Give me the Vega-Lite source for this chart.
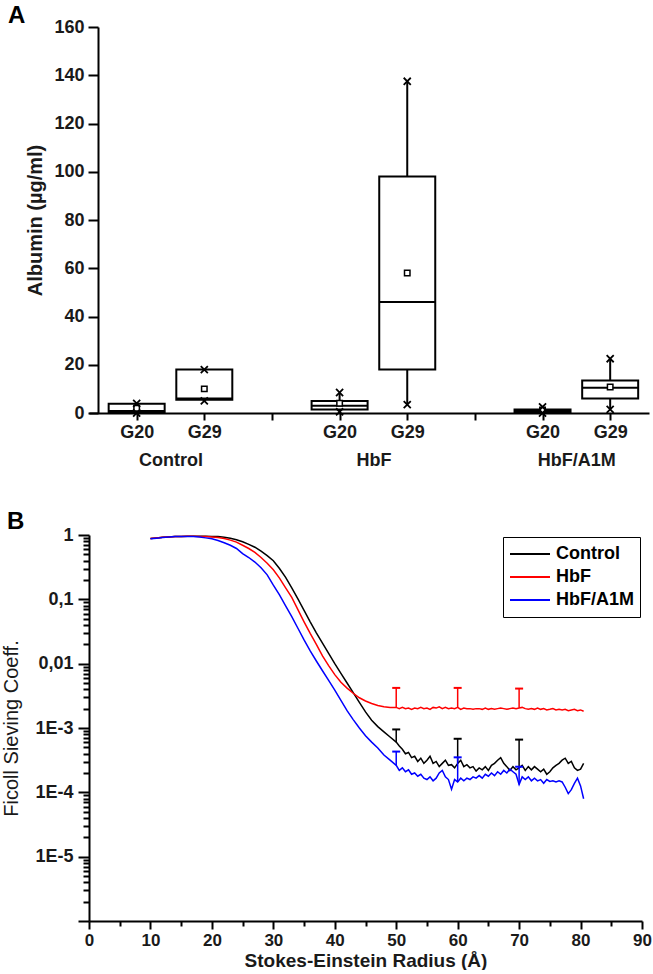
{
"$schema": "https://vega.github.io/schema/vega-lite/v6.json",
"padding": {"left": 1, "top": 4, "right": 0, "bottom": 0},
"align": "none",
"spacing": 41,
"resolve": {"scale": {"color": "independent"}, "legend": {"color": "independent"}},
"config": {
  "font": "Liberation Sans",
  "view": {"stroke": null},
  "axis": {"domainColor": "black", "domainWidth": 2, "tickColor": "black", "tickWidth": 2, "labelColor": "#1a1a1a", "labelFontWeight": "bold", "labelFontSize": 17, "titleColor": "#1a1a1a", "titleFontWeight": "bold", "titleFontSize": 19, "grid": false},
  "title": {"fontSize": 24, "fontWeight": "bold", "color": "black", "anchor": "start", "frame": "bounds"}
},
"datasets": {
  "boxes": [
    {"group": "Control", "label": "G20", "pos": 1, "min": 0, "q1": 0.3, "median": 0.8, "q3": 3.8, "max": 4, "mean": 2},
    {"group": "Control", "label": "G29", "pos": 2, "min": 5, "q1": 5.5, "median": 6, "q3": 18, "max": 18, "mean": 10},
    {"group": "HbF", "label": "G20", "pos": 4, "min": 0.5, "q1": 1.5, "median": 3, "q3": 5, "max": 8.5, "mean": 4},
    {"group": "HbF", "label": "G29", "pos": 5, "min": 3.5, "q1": 18, "median": 46, "q3": 98, "max": 137.5, "mean": 58},
    {"group": "HbF/A1M", "label": "G20", "pos": 7, "min": 0, "q1": 0.3, "median": 0.8, "q3": 1.5, "max": 2.5, "mean": 1.2},
    {"group": "HbF/A1M", "label": "G29", "pos": 8, "min": 1.5, "q1": 6, "median": 10.5, "q3": 13.5, "max": 22.5, "mean": 10.8}
  ],
  "errs": [
    {"s": "Control", "r": 50, "lo": 0.000603, "hi": 0.00095},
    {"s": "Control", "r": 60, "lo": 0.000282, "hi": 0.00068},
    {"s": "Control", "r": 70, "lo": 0.00024, "hi": 0.00066},
    {"s": "HbF", "r": 50, "lo": 0.00209, "hi": 0.0042},
    {"s": "HbF", "r": 60, "lo": 0.00209, "hi": 0.0042},
    {"s": "HbF", "r": 70, "lo": 0.00204, "hi": 0.0041},
    {"s": "HbF/A1M", "r": 50, "lo": 0.000263, "hi": 0.00043},
    {"s": "HbF/A1M", "r": 60, "lo": 0.000145, "hi": 0.00035},
    {"s": "HbF/A1M", "r": 70, "lo": 0.000132, "hi": 0.00025}
  ],
  "curves": [
    {"s":"Control","r":10,"v":0.881},{"s":"Control","r":11,"v":0.902},{"s":"Control","r":12,"v":0.923},{"s":"Control","r":13,"v":0.933},{"s":"Control","r":14,"v":0.944},{"s":"Control","r":15,"v":0.951},{"s":"Control","r":16,"v":0.955},{"s":"Control","r":17,"v":0.955},{"s":"Control","r":18,"v":0.955},{"s":"Control","r":19,"v":0.955},{"s":"Control","r":20,"v":0.951},{"s":"Control","r":21,"v":0.944},{"s":"Control","r":22,"v":0.923},{"s":"Control","r":23,"v":0.891},{"s":"Control","r":24,"v":0.841},{"s":"Control","r":25,"v":0.785},{"s":"Control","r":26,"v":0.716},{"s":"Control","r":27,"v":0.646},{"s":"Control","r":28,"v":0.562},{"s":"Control","r":29,"v":0.479},{"s":"Control","r":30,"v":0.398},{"s":"Control","r":31,"v":0.302},{"s":"Control","r":32,"v":0.219},{"s":"Control","r":33,"v":0.151},{"s":"Control","r":34,"v":0.102},{"s":"Control","r":35,"v":0.0676},{"s":"Control","r":36,"v":0.0447},{"s":"Control","r":37,"v":0.0302},{"s":"Control","r":38,"v":0.0209},{"s":"Control","r":39,"v":0.0145},{"s":"Control","r":40,"v":0.0100},{"s":"Control","r":41,"v":0.00708},{"s":"Control","r":42,"v":0.00501},{"s":"Control","r":43,"v":0.00355},{"s":"Control","r":44,"v":0.00251},{"s":"Control","r":45,"v":0.00178},{"s":"Control","r":46,"v":0.00132},{"s":"Control","r":47,"v":0.00105},{"s":"Control","r":48,"v":0.000871},{"s":"Control","r":49,"v":0.000724},{"s":"Control","r":50,"v":0.000603},
    {"s":"Control","r":50.5,"v":0.000525},{"s":"Control","r":51,"v":0.000468},{"s":"Control","r":51.5,"v":0.000398},{"s":"Control","r":52,"v":0.000417},{"s":"Control","r":52.5,"v":0.000347},{"s":"Control","r":53,"v":0.000363},{"s":"Control","r":53.5,"v":0.000302},{"s":"Control","r":54,"v":0.000339},{"s":"Control","r":54.5,"v":0.000282},{"s":"Control","r":55,"v":0.000316},{"s":"Control","r":55.5,"v":0.000363},{"s":"Control","r":56,"v":0.000282},{"s":"Control","r":56.5,"v":0.000302},{"s":"Control","r":57,"v":0.000251},{"s":"Control","r":57.5,"v":0.000282},{"s":"Control","r":58,"v":0.000316},{"s":"Control","r":58.5,"v":0.000263},{"s":"Control","r":59,"v":0.000269},{"s":"Control","r":59.5,"v":0.000240},{"s":"Control","r":60,"v":0.000282},{"s":"Control","r":60.5,"v":0.000316},{"s":"Control","r":61,"v":0.000251},{"s":"Control","r":61.5,"v":0.000269},{"s":"Control","r":62,"v":0.000240},{"s":"Control","r":62.5,"v":0.000251},{"s":"Control","r":63,"v":0.000214},{"s":"Control","r":63.5,"v":0.000240},{"s":"Control","r":64,"v":0.000224},{"s":"Control","r":64.5,"v":0.000251},{"s":"Control","r":65,"v":0.000219},{"s":"Control","r":65.5,"v":0.000263},{"s":"Control","r":66,"v":0.000282},{"s":"Control","r":66.5,"v":0.000316},{"s":"Control","r":67,"v":0.000347},{"s":"Control","r":67.5,"v":0.000282},{"s":"Control","r":68,"v":0.000251},{"s":"Control","r":68.5,"v":0.000219},{"s":"Control","r":69,"v":0.000251},{"s":"Control","r":69.5,"v":0.000224},{"s":"Control","r":70,"v":0.000240},{"s":"Control","r":70.5,"v":0.000263},{"s":"Control","r":71,"v":0.000219},{"s":"Control","r":71.5,"v":0.000251},{"s":"Control","r":72,"v":0.000224},{"s":"Control","r":72.5,"v":0.000251},{"s":"Control","r":73,"v":0.000229},{"s":"Control","r":73.5,"v":0.000209},{"s":"Control","r":74,"v":0.000229},{"s":"Control","r":74.5,"v":0.000191},{"s":"Control","r":75,"v":0.000209},{"s":"Control","r":75.5,"v":0.000240},{"s":"Control","r":76,"v":0.000263},{"s":"Control","r":76.5,"v":0.000282},{"s":"Control","r":77,"v":0.000316},{"s":"Control","r":77.5,"v":0.000339},{"s":"Control","r":78,"v":0.000282},{"s":"Control","r":78.5,"v":0.000302},{"s":"Control","r":79,"v":0.000240},{"s":"Control","r":79.5,"v":0.000219},{"s":"Control","r":80,"v":0.000229},{"s":"Control","r":80.5,"v":0.000282},
    {"s":"HbF","r":10,"v":0.881},{"s":"HbF","r":11,"v":0.902},{"s":"HbF","r":12,"v":0.923},{"s":"HbF","r":13,"v":0.933},{"s":"HbF","r":14,"v":0.944},{"s":"HbF","r":15,"v":0.951},{"s":"HbF","r":16,"v":0.955},{"s":"HbF","r":17,"v":0.955},{"s":"HbF","r":18,"v":0.951},{"s":"HbF","r":19,"v":0.944},{"s":"HbF","r":20,"v":0.933},{"s":"HbF","r":21,"v":0.912},{"s":"HbF","r":22,"v":0.881},{"s":"HbF","r":23,"v":0.832},{"s":"HbF","r":24,"v":0.776},{"s":"HbF","r":25,"v":0.692},{"s":"HbF","r":26,"v":0.617},{"s":"HbF","r":27,"v":0.537},{"s":"HbF","r":28,"v":0.447},{"s":"HbF","r":29,"v":0.363},{"s":"HbF","r":30,"v":0.288},{"s":"HbF","r":31,"v":0.214},{"s":"HbF","r":32,"v":0.151},{"s":"HbF","r":33,"v":0.107},{"s":"HbF","r":34,"v":0.0692},{"s":"HbF","r":35,"v":0.0447},{"s":"HbF","r":36,"v":0.0295},{"s":"HbF","r":37,"v":0.0200},{"s":"HbF","r":38,"v":0.0132},{"s":"HbF","r":39,"v":0.00933},{"s":"HbF","r":40,"v":0.00676},{"s":"HbF","r":41,"v":0.00513},{"s":"HbF","r":42,"v":0.00417},{"s":"HbF","r":43,"v":0.00347},{"s":"HbF","r":44,"v":0.00295},{"s":"HbF","r":45,"v":0.00263},{"s":"HbF","r":46,"v":0.00240},{"s":"HbF","r":47,"v":0.00224},{"s":"HbF","r":48,"v":0.00214},{"s":"HbF","r":49,"v":0.00209},{"s":"HbF","r":50,"v":0.00209},
    {"s":"HbF","r":50.5,"v":0.00200},{"s":"HbF","r":51,"v":0.00209},{"s":"HbF","r":51.5,"v":0.00200},{"s":"HbF","r":52,"v":0.00204},{"s":"HbF","r":52.5,"v":0.00195},{"s":"HbF","r":53,"v":0.00204},{"s":"HbF","r":53.5,"v":0.00200},{"s":"HbF","r":54,"v":0.00209},{"s":"HbF","r":54.5,"v":0.00200},{"s":"HbF","r":55,"v":0.00204},{"s":"HbF","r":55.5,"v":0.00195},{"s":"HbF","r":56,"v":0.00209},{"s":"HbF","r":56.5,"v":0.00204},{"s":"HbF","r":57,"v":0.00214},{"s":"HbF","r":57.5,"v":0.00200},{"s":"HbF","r":58,"v":0.00209},{"s":"HbF","r":58.5,"v":0.00200},{"s":"HbF","r":59,"v":0.00204},{"s":"HbF","r":59.5,"v":0.00200},{"s":"HbF","r":60,"v":0.00209},{"s":"HbF","r":60.5,"v":0.00195},{"s":"HbF","r":61,"v":0.00204},{"s":"HbF","r":61.5,"v":0.00200},{"s":"HbF","r":62,"v":0.00200},{"s":"HbF","r":62.5,"v":0.00195},{"s":"HbF","r":63,"v":0.00200},{"s":"HbF","r":63.5,"v":0.00200},{"s":"HbF","r":64,"v":0.00195},{"s":"HbF","r":64.5,"v":0.00204},{"s":"HbF","r":65,"v":0.00195},{"s":"HbF","r":65.5,"v":0.00200},{"s":"HbF","r":66,"v":0.00195},{"s":"HbF","r":66.5,"v":0.00200},{"s":"HbF","r":67,"v":0.00204},{"s":"HbF","r":67.5,"v":0.00200},{"s":"HbF","r":68,"v":0.00195},{"s":"HbF","r":68.5,"v":0.00200},{"s":"HbF","r":69,"v":0.00204},{"s":"HbF","r":69.5,"v":0.00200},{"s":"HbF","r":70,"v":0.00204},{"s":"HbF","r":70.5,"v":0.00209},{"s":"HbF","r":71,"v":0.00200},{"s":"HbF","r":71.5,"v":0.00195},{"s":"HbF","r":72,"v":0.00200},{"s":"HbF","r":72.5,"v":0.00195},{"s":"HbF","r":73,"v":0.00204},{"s":"HbF","r":73.5,"v":0.00195},{"s":"HbF","r":74,"v":0.00200},{"s":"HbF","r":74.5,"v":0.00191},{"s":"HbF","r":75,"v":0.00195},{"s":"HbF","r":75.5,"v":0.00200},{"s":"HbF","r":76,"v":0.00191},{"s":"HbF","r":76.5,"v":0.00195},{"s":"HbF","r":77,"v":0.00191},{"s":"HbF","r":77.5,"v":0.00195},{"s":"HbF","r":78,"v":0.00186},{"s":"HbF","r":78.5,"v":0.00191},{"s":"HbF","r":79,"v":0.00195},{"s":"HbF","r":79.5,"v":0.00186},{"s":"HbF","r":80,"v":0.00191},{"s":"HbF","r":80.5,"v":0.00182},
    {"s":"HbF/A1M","r":10,"v":0.871},{"s":"HbF/A1M","r":11,"v":0.891},{"s":"HbF/A1M","r":12,"v":0.912},{"s":"HbF/A1M","r":13,"v":0.933},{"s":"HbF/A1M","r":14,"v":0.944},{"s":"HbF/A1M","r":15,"v":0.951},{"s":"HbF/A1M","r":16,"v":0.951},{"s":"HbF/A1M","r":17,"v":0.944},{"s":"HbF/A1M","r":18,"v":0.933},{"s":"HbF/A1M","r":19,"v":0.902},{"s":"HbF/A1M","r":20,"v":0.871},{"s":"HbF/A1M","r":21,"v":0.822},{"s":"HbF/A1M","r":22,"v":0.759},{"s":"HbF/A1M","r":23,"v":0.692},{"s":"HbF/A1M","r":24,"v":0.617},{"s":"HbF/A1M","r":25,"v":0.513},{"s":"HbF/A1M","r":26,"v":0.447},{"s":"HbF/A1M","r":27,"v":0.380},{"s":"HbF/A1M","r":28,"v":0.309},{"s":"HbF/A1M","r":29,"v":0.240},{"s":"HbF/A1M","r":30,"v":0.166},{"s":"HbF/A1M","r":31,"v":0.117},{"s":"HbF/A1M","r":32,"v":0.0794},{"s":"HbF/A1M","r":33,"v":0.0537},{"s":"HbF/A1M","r":34,"v":0.0355},{"s":"HbF/A1M","r":35,"v":0.0234},{"s":"HbF/A1M","r":36,"v":0.0158},{"s":"HbF/A1M","r":37,"v":0.0110},{"s":"HbF/A1M","r":38,"v":0.00776},{"s":"HbF/A1M","r":39,"v":0.00550},{"s":"HbF/A1M","r":40,"v":0.00389},{"s":"HbF/A1M","r":41,"v":0.00269},{"s":"HbF/A1M","r":42,"v":0.00186},{"s":"HbF/A1M","r":43,"v":0.00135},{"s":"HbF/A1M","r":44,"v":0.00100},{"s":"HbF/A1M","r":45,"v":0.000759},{"s":"HbF/A1M","r":46,"v":0.000603},{"s":"HbF/A1M","r":47,"v":0.000490},{"s":"HbF/A1M","r":48,"v":0.000380},{"s":"HbF/A1M","r":49,"v":0.000316},{"s":"HbF/A1M","r":50,"v":0.000263},
    {"s":"HbF/A1M","r":50.5,"v":0.000219},{"s":"HbF/A1M","r":51,"v":0.000240},{"s":"HbF/A1M","r":51.5,"v":0.000209},{"s":"HbF/A1M","r":52,"v":0.000224},{"s":"HbF/A1M","r":52.5,"v":0.000191},{"s":"HbF/A1M","r":53,"v":0.000200},{"s":"HbF/A1M","r":53.5,"v":0.000178},{"s":"HbF/A1M","r":54,"v":0.000191},{"s":"HbF/A1M","r":54.5,"v":0.000166},{"s":"HbF/A1M","r":55,"v":0.000158},{"s":"HbF/A1M","r":55.5,"v":0.000174},{"s":"HbF/A1M","r":56,"v":0.000151},{"s":"HbF/A1M","r":56.5,"v":0.000166},{"s":"HbF/A1M","r":57,"v":0.000200},{"s":"HbF/A1M","r":57.5,"v":0.000219},{"s":"HbF/A1M","r":58,"v":0.000174},{"s":"HbF/A1M","r":58.5,"v":0.000158},{"s":"HbF/A1M","r":59,"v":0.000112},{"s":"HbF/A1M","r":59.5,"v":0.000158},{"s":"HbF/A1M","r":60,"v":0.000145},{"s":"HbF/A1M","r":60.5,"v":0.000166},{"s":"HbF/A1M","r":61,"v":0.000151},{"s":"HbF/A1M","r":61.5,"v":0.000166},{"s":"HbF/A1M","r":62,"v":0.000158},{"s":"HbF/A1M","r":62.5,"v":0.000174},{"s":"HbF/A1M","r":63,"v":0.000166},{"s":"HbF/A1M","r":63.5,"v":0.000182},{"s":"HbF/A1M","r":64,"v":0.000166},{"s":"HbF/A1M","r":64.5,"v":0.000191},{"s":"HbF/A1M","r":65,"v":0.000178},{"s":"HbF/A1M","r":65.5,"v":0.000200},{"s":"HbF/A1M","r":66,"v":0.000182},{"s":"HbF/A1M","r":66.5,"v":0.000209},{"s":"HbF/A1M","r":67,"v":0.000191},{"s":"HbF/A1M","r":67.5,"v":0.000219},{"s":"HbF/A1M","r":68,"v":0.000200},{"s":"HbF/A1M","r":68.5,"v":0.000229},{"s":"HbF/A1M","r":69,"v":0.000209},{"s":"HbF/A1M","r":69.5,"v":0.000191},{"s":"HbF/A1M","r":70,"v":0.000132},{"s":"HbF/A1M","r":70.5,"v":0.000174},{"s":"HbF/A1M","r":71,"v":0.000158},{"s":"HbF/A1M","r":71.5,"v":0.000174},{"s":"HbF/A1M","r":72,"v":0.000151},{"s":"HbF/A1M","r":72.5,"v":0.000166},{"s":"HbF/A1M","r":73,"v":0.000151},{"s":"HbF/A1M","r":73.5,"v":0.000158},{"s":"HbF/A1M","r":74,"v":0.000138},{"s":"HbF/A1M","r":74.5,"v":0.000158},{"s":"HbF/A1M","r":75,"v":0.000148},{"s":"HbF/A1M","r":75.5,"v":0.000151},{"s":"HbF/A1M","r":76,"v":0.000145},{"s":"HbF/A1M","r":76.5,"v":0.000151},{"s":"HbF/A1M","r":77,"v":0.000145},{"s":"HbF/A1M","r":77.5,"v":0.000120},{"s":"HbF/A1M","r":78,"v":0.0000955},{"s":"HbF/A1M","r":78.5,"v":0.000110},{"s":"HbF/A1M","r":79,"v":0.000138},{"s":"HbF/A1M","r":79.5,"v":0.000166},{"s":"HbF/A1M","r":80,"v":0.000126},{"s":"HbF/A1M","r":80.5,"v":0.0000794}
  ]
},
"vconcat": [
  {
    "title": {"text": "A", "dx": -18, "offset": -10},
    "width": 560,
    "height": 386,
    "data": {"name": "boxes"},
    "encoding": {
      "x": {"field": "pos", "type": "quantitative", "scale": {"domain": [0.3693, 8.5], "nice": false, "zero": false},
        "axis": {"title": null, "values": [1, 1.5, 2, 3, 4, 4.5, 5, 6, 7, 7.5, 8],
          "labelExpr": "datum.value == 1.5 ? ['', 'Control'] : datum.value == 4.5 ? ['', 'HbF'] : datum.value == 7.5 ? ['', 'HbF/A1M'] : (datum.value == 1 || datum.value == 4 || datum.value == 7) ? 'G20' : (datum.value == 2 || datum.value == 5 || datum.value == 8) ? 'G29' : ''",
          "tickOpacity": {"condition": {"test": "datum.value == 1.5 || datum.value == 4.5 || datum.value == 7.5", "value": 0}, "value": 1},
          "tickSize": 7, "labelLineHeight": 28, "labelOverlap": false, "labelFlush": false, "labelFontSize": 18, "labelPadding": 3}}
    },
    "layer": [
      {"mark": {"type": "rule", "color": "black", "strokeWidth": 2},
       "encoding": {"y": {"field": "min", "type": "quantitative", "title": "Albumin (µg/ml)", "scale": {"domain": [0, 160], "nice": false},
          "axis": {"values": [0, 20, 40, 60, 80, 100, 120, 140, 160], "offset": -9, "tickSize": 10, "labelPadding": 4, "labelFontSize": 18, "titlePadding": 8, "titleFontSize": 20}},
         "y2": {"field": "max"}}},
      {"mark": {"type": "bar", "size": 56, "fill": "white", "stroke": "black", "strokeWidth": 2},
       "encoding": {"y": {"field": "q1", "type": "quantitative", "title": "Albumin (µg/ml)"}, "y2": {"field": "q3"}}},
      {"mark": {"type": "tick", "orient": "horizontal", "size": 56, "thickness": 2, "color": "black", "opacity": 1},
       "encoding": {"y": {"field": "median", "type": "quantitative", "title": "Albumin (µg/ml)"}}},
      {"mark": {"type": "point", "shape": "square", "size": 30, "filled": true, "fill": "white", "stroke": "black", "strokeWidth": 1.5, "opacity": 1},
       "encoding": {"y": {"field": "mean", "type": "quantitative", "title": "Albumin (µg/ml)"}}},
      {"mark": {"type": "point", "shape": "M-1,-1L1,1M1,-1L-1,1", "size": 50, "filled": false, "stroke": "black", "strokeWidth": 1.8, "opacity": 1},
       "encoding": {"y": {"field": "min", "type": "quantitative", "title": "Albumin (µg/ml)"}}},
      {"mark": {"type": "point", "shape": "M-1,-1L1,1M1,-1L-1,1", "size": 50, "filled": false, "stroke": "black", "strokeWidth": 1.8, "opacity": 1},
       "encoding": {"y": {"field": "max", "type": "quantitative", "title": "Albumin (µg/ml)"}}}
    ]
  },
  {
    "title": {"text": "B", "dx": 5, "offset": -8},
    "width": 553,
    "height": 386,
    "encoding": {
      "x": {"field": "r", "type": "quantitative", "title": "Stokes-Einstein Radius (Å)",
        "scale": {"domain": [0, 90], "nice": false, "zero": false},
        "axis": {"values": [0, 5, 10, 15, 20, 25, 30, 35, 40, 45, 50, 55, 60, 65, 70, 75, 80, 85, 90],
          "labelExpr": "datum.value % 10 == 0 ? datum.label : ''",
          "tickSize": {"condition": {"test": "datum.value % 10 == 0", "value": 8}, "value": 5},
          "labelFontSize": 17, "labelPadding": 3, "titlePadding": 3, "titleFontSize": 19, "labelFlush": false, "labelOverlap": false}},
      "color": {"field": "s", "type": "nominal",
        "scale": {"domain": ["Control", "HbF", "HbF/A1M"], "range": ["#000000", "#ff0000", "#0000ff"]},
        "legend": {"title": null, "orient": "top-right", "offset": 2, "strokeColor": "black", "fillColor": "white", "padding": 6,
          "symbolType": "stroke", "symbolSize": 1600, "symbolStrokeWidth": 2, "clipHeight": 22, "labelFontSize": 18, "labelFontWeight": "bold", "labelColor": "black", "labelOffset": 5, "rowPadding": 1, "labelFont": "Liberation Sans"}}
    },
    "layer": [
      {"data": {"name": "curves"},
       "mark": {"type": "line", "strokeWidth": 1.5},
       "encoding": {"y": {"field": "v", "type": "quantitative", "title": "Ficoll Sieving Coeff.",
          "scale": {"type": "log", "domain": [0.000001, 1], "nice": false},
          "axis": {"values": [0.000001, 0.000002, 0.000003, 0.000004, 0.000005, 0.000006, 0.000007, 0.000008, 0.000009, 0.00001, 0.00002, 0.00003, 0.00004, 0.00005, 0.00006, 0.00007, 0.00008, 0.00009, 0.0001, 0.0002, 0.0003, 0.0004, 0.0005, 0.0006, 0.0007, 0.0008, 0.0009, 0.001, 0.002, 0.003, 0.004, 0.005, 0.006, 0.007, 0.008, 0.009, 0.01, 0.02, 0.03, 0.04, 0.05, 0.06, 0.07, 0.08, 0.09, 0.1, 0.2, 0.3, 0.4, 0.5, 0.6, 0.7, 0.8, 0.9, 1],
            "labelExpr": "datum.value == 1 ? '1' : datum.value == 0.1 ? '0,1' : datum.value == 0.01 ? '0,01' : datum.value == 0.001 ? '1E-3' : datum.value == 0.0001 ? '1E-4' : datum.value == 0.00001 ? '1E-5' : ''",
            "tickSize": {"condition": {"test": "indexof([1, 0.1, 0.01, 0.001, 0.0001, 0.00001, 0.000001], datum.value) >= 0", "value": 11}, "value": 6},
            "labelOverlap": false, "labelFontSize": 18, "labelPadding": 5, "titlePadding": 13, "titleFontWeight": "normal", "titleFontSize": 20}}}},
      {"data": {"name": "errs"},
       "mark": {"type": "rule", "strokeWidth": 1.5},
       "encoding": {"y": {"field": "lo", "type": "quantitative", "title": "Ficoll Sieving Coeff."}, "y2": {"field": "hi"}}},
      {"data": {"name": "errs"},
       "mark": {"type": "tick", "orient": "horizontal", "size": 8, "thickness": 2, "opacity": 1},
       "encoding": {"y": {"field": "hi", "type": "quantitative", "title": "Ficoll Sieving Coeff."}}}
    ]
  }
]
}
